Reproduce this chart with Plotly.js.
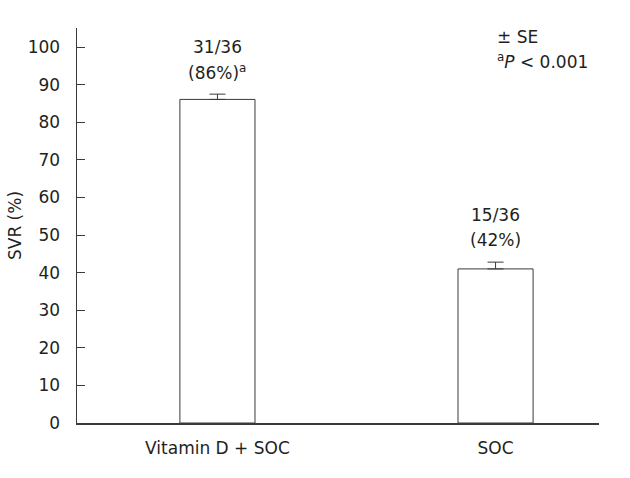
<!DOCTYPE html>
<html>
<head>
<meta charset="utf-8">
<script src="https://cdn.plot.ly/plotly-3.0.1.min.js"></script>
<style>html,body{margin:0;padding:0;background:#fff;}#chart{width:630px;height:478px;}</style>
</head>
<body>
<div id="chart"></div>
<script>
const categories = ['Vitamin D + SOC', 'SOC'];
const svr = [86.1, 41.0];
const se = [1.4, 1.8];
const counts = ['31/36', '15/36'];
const pctLabels = ['(86%)<sup>a</sup>', '(42%)'];
const yTicks = [0, 10, 20, 30, 40, 50, 60, 70, 80, 90, 100];

const FONT = 'DejaVu Sans, Verdana, sans-serif';
const TXT = '#231f20';
const AX = '#3a3a3a';

const trace = {
  type: 'bar',
  x: categories,
  y: svr,
  width: 0.27,
  marker: {color: '#ffffff', line: {color: AX, width: 1}},
  error_y: {type: 'data', symmetric: false, array: se, arrayminus: se.map(() => 0),
            color: AX, thickness: 1, width: 8},
  hoverinfo: 'none'
};

const annotations = [];
categories.forEach((c, i) => {
  annotations.push({x: c, y: svr[i] + se[i], xref: 'x', yref: 'y', text: pctLabels[i],
    showarrow: false, yanchor: 'middle', yshift: 22, font: {size: 17, color: TXT, family: FONT}});
  annotations.push({x: c, y: svr[i] + se[i], xref: 'x', yref: 'y', text: counts[i],
    showarrow: false, yanchor: 'middle', yshift: 47, font: {size: 17, color: TXT, family: FONT}});
});
annotations.push({x: 0.801, y: 0.977, xref: 'paper', yref: 'paper', xanchor: 'left', yanchor: 'middle',
  text: '± SE', showarrow: false, font: {size: 17, color: TXT, family: FONT}});
annotations.push({x: 0.801, y: 0.916, xref: 'paper', yref: 'paper', xanchor: 'left', yanchor: 'middle',
  text: '<sup>a</sup><i>P</i> &lt; 0.001', showarrow: false, font: {size: 17, color: TXT, family: FONT}});

const layout = {
  width: 630, height: 478,
  margin: {l: 77, r: 31, t: 28, b: 55},
  paper_bgcolor: '#fff', plot_bgcolor: '#fff',
  font: {family: FONT, size: 17, color: TXT},
  showlegend: false,
  xaxis: {type: 'category', range: [-0.505, 1.372], showline: true, linecolor: AX, linewidth: 1.5,
          ticks: '', ticklabelstandoff: 9, showgrid: false, zeroline: false, fixedrange: true},
  yaxis: {range: [0, 105.1], tickvals: yTicks, ticks: 'inside', ticklen: 8, tickcolor: AX,
          ticklabelstandoff: 12,
          showline: true, linecolor: AX, linewidth: 1.5, showgrid: false, zeroline: false,
          title: {text: 'SVR (%)', font: {size: 17, color: TXT, family: FONT}, standoff: 1}},
  annotations: annotations
};

Plotly.newPlot('chart', [trace], layout, {displayModeBar: false, staticPlot: true});
</script>
</body>
</html>
